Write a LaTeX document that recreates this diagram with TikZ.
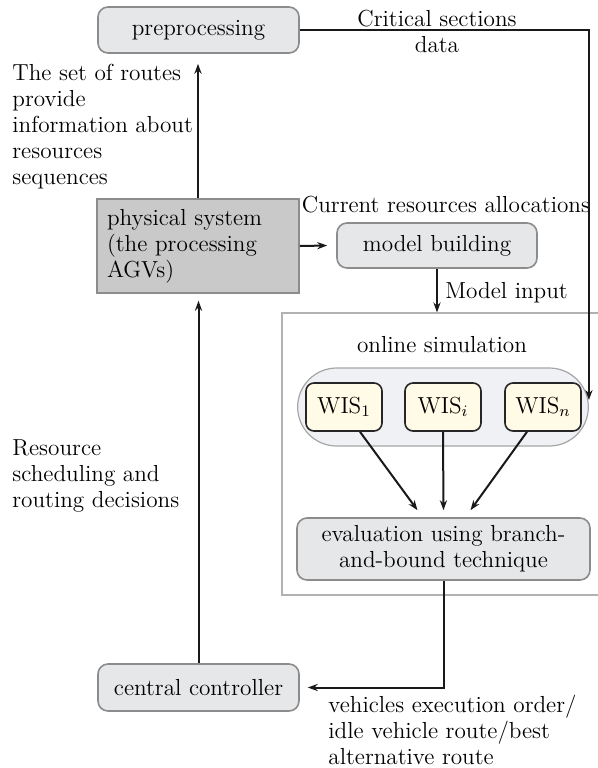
\documentclass[tikz,border=0pt]{standalone}
\usetikzlibrary{arrows.meta,positioning,shapes.misc}
\definecolor{boxgray}{HTML}{E6E7E9}
\definecolor{sysgray}{HTML}{C9C9C9}
\definecolor{poolgray}{HTML}{EFF1F4}
\definecolor{wisfill}{HTML}{FFFBE6}
\begin{document}
\begin{tikzpicture}[
  x=0.5pt, y=-0.5pt,
  font=\fontsize{11.6}{13}\selectfont,
  >={Stealth[length=5pt, width=3.6pt]},
  proc/.style={rectangle, rounded corners=5pt, draw=black!45, fill=boxgray,
               line width=0.8pt, align=center},
  sysbox/.style={rectangle, draw=black!45, fill=sysgray, line width=0.8pt,
                 align=left, text width=91pt, inner sep=5pt,
                 minimum width=101pt, minimum height=44pt},
  wis/.style={rectangle, rounded corners=4pt, draw=black!85, fill=wisfill,
              line width=0.8pt, minimum width=38pt, minimum height=24pt},
  pool/.style={rounded rectangle, draw=black!35, fill=poolgray, line width=0.6pt,
               minimum width=152pt, minimum height=39pt},
  frame/.style={rectangle, draw=black!30, line width=0.6pt,
                minimum width=160pt, minimum height=141pt},
  note/.style={align=left, inner sep=0pt},
  link/.style={->, line width=1pt, draw=black!90},
]
\useasboundingbox (0,0) rectangle (598,768);

% boxes
\node[proc, minimum width=100.5pt, minimum height=23pt] (pre) at (198.5,30) {preprocessing};
\node[sysbox] (phys) at (198,246) {physical system\\(the processing\\AGVs)};
\node[proc, minimum width=100pt, minimum height=22.5pt] (model) at (437,245.5) {model building};

\node[frame] (sim) at (442,454) {};
\node (simlbl) at (442,345) {online simulation};
\node[pool] (pool) at (443,407) {};
\node[wis] (w1) at (344,407) {WIS$_1$};
\node[wis] (wi) at (443,407) {WIS$_i$};
\node[wis] (wn) at (543,407) {WIS$_n$};
\node[proc, minimum width=146.5pt, minimum height=31pt] (eval) at (443.5,549)
  {evaluation using branch-\\and-bound technique};

\node[proc, minimum width=100.5pt, minimum height=23.5pt] (ctrl) at (198.5,687.5) {central controller};

% labels
\node[note, anchor=north west] (routes) at (12,64)
  {The set of routes\\provide\\information about\\resources\\sequences};
\node[align=center, inner sep=0pt] (crit) at (437,31) {Critical sections\\data};
\node[inner sep=0pt] (curr) at (446,205) {Current resources allocations};
\node[note, anchor=west] (minput) at (445,293) {Model input};
\node[note, anchor=west] (decis) at (12,476)
  {Resource\\scheduling and\\routing decisions};
\node[note, anchor=north west] (order) at (328,695)
  {vehicles execution order/\\idle vehicle route/best\\alternative route};

% connectors
\draw[link] (phys.north) -- ([yshift=-5pt]phys.north |- pre.south);
\draw[link] (pre.east) -| ([yshift=3.5pt]pool.east);
\draw[link] (phys.east) -- ([xshift=-4.5pt]model.west);
\draw[link] (model.south) -- (model.south |- sim.north);
\draw[link] ([xshift=8pt]w1.south) -- ([xshift=-13pt,yshift=3.5pt]eval.north);
\draw[link] (wi.south) -- ([yshift=3.5pt]eval.north);
\draw[link] ([xshift=-8pt]wn.south) -- ([xshift=13.5pt,yshift=3.5pt]eval.north);
\draw[link] (eval.south) |- ([xshift=4pt]ctrl.east);
\draw[link] (ctrl.north) -- ([yshift=-3.5pt]ctrl.north |- phys.south);

\end{tikzpicture}
\end{document}
